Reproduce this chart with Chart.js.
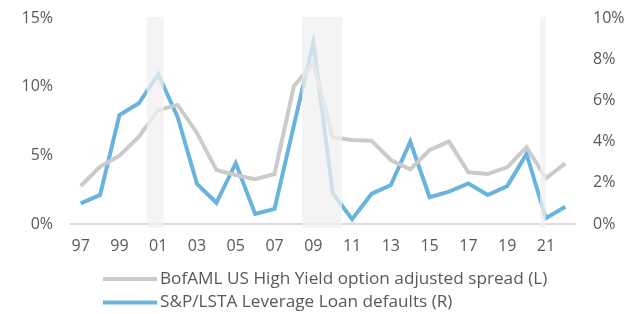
<!DOCTYPE html>
<html>
<head>
<meta charset="utf-8">
<script src="https://cdn.jsdelivr.net/npm/chart.js@4/dist/chart.umd.min.js"></script>
<style>
  html, body { margin: 0; padding: 0; background: #ffffff; }
  #wrap { width: 642px; height: 314px; position: relative; }
</style>
</head>
<body>
<div id="wrap"><canvas id="c" width="642" height="314"></canvas></div>
<script>
// ---- data ----
const years = [1997,1998,1999,2000,2001,2002,2003,2004,2005,2006,2007,2008,2009,2010,2011,2012,2013,2014,2015,2016,2017,2018,2019,2020,2021,2022];
const hySpread = [2.77,4.17,4.97,6.36,8.30,8.67,6.63,3.93,3.57,3.26,3.64,10.05,11.7,6.31,6.12,6.07,4.66,3.98,5.39,6.0,3.76,3.64,4.13,5.59,3.33,4.42];
const loanDefaults = [1.0,1.41,5.29,5.86,7.27,5.2,1.94,1.03,2.95,0.49,0.73,4.8,8.81,1.49,0.23,1.46,1.89,4.0,1.3,1.57,1.97,1.41,1.84,3.4,0.28,0.84];
const recessions = [[2000.41, 2001.28], [2008.42, 2010.48], [2020.7, 2021.0]];
const leftTicks = [0, 5, 10, 15];
const rightTicks = [0, 2, 4, 6, 8, 10];
const seriesLabels = ['BofAML US High Yield option adjusted spread (L)', 'S&P/LSTA Leverage Loan defaults (R)'];

const labels = years.map(y => String(y % 100).padStart(2, '0'));
const FONT = "'Open Sans', 'Noto Sans', sans-serif";
const TXT = '#595959';
const GRAY = '#cbcbcb';
const BLUE = '#6ab4dc';

const bandsPlugin = {
  id: 'bands',
  afterDatasetsDraw(chart) {
    const x = chart.scales.x, ca = chart.chartArea, ctx = chart.ctx;
    ctx.save();
    ctx.fillStyle = 'rgba(240,240,240,0.75)';
    recessions.forEach(([a, b]) => {
      const x1 = x.getPixelForValue(a - years[0]);
      const x2 = x.getPixelForValue(b - years[0]);
      ctx.fillRect(x1, ca.top - 1, x2 - x1, ca.bottom - ca.top + 5);
    });
    ctx.restore();
  }
};

const legendPlugin = {
  id: 'customLegend',
  afterDraw(chart) {
    const ctx = chart.ctx;
    ctx.save();
    chart.data.datasets.forEach((ds, i) => {
      const y = 279 + i * 23.5;
      ctx.strokeStyle = ds.borderColor;
      ctx.lineWidth = 4;
      ctx.beginPath();
      ctx.moveTo(103, y);
      ctx.lineTo(157, y);
      ctx.stroke();
      ctx.fillStyle = TXT;
      ctx.font = '17.2px ' + FONT;
      ctx.textBaseline = 'middle';
      ctx.textAlign = 'left';
      ctx.fillText(ds.label, 160, y);
    });
    ctx.restore();
  }
};

new Chart(document.getElementById('c'), {
  type: 'line',
  data: {
    labels: labels,
    datasets: [
      { label: seriesLabels[0], data: hySpread, yAxisID: 'yL', borderColor: GRAY, borderWidth: 4, pointRadius: 0, tension: 0, fill: false },
      { label: seriesLabels[1], data: loanDefaults, yAxisID: 'yR', borderColor: BLUE, borderWidth: 4, pointRadius: 0, tension: 0, fill: false }
    ]
  },
  options: {
    responsive: false,
    animation: false,
    devicePixelRatio: 1,
    layout: { padding: { top: 18, left: 0, right: 0, bottom: 0 } },
    plugins: { legend: { display: false }, tooltip: { enabled: false }, title: { display: false } },
    scales: {
      x: {
        type: 'category',
        offset: true,
        grid: { display: false, drawTicks: false },
        border: { display: true, color: '#d9d9d9', width: 2 },
        ticks: {
          autoSkip: false, maxRotation: 0, padding: 13,
          color: TXT, font: { family: FONT, size: 16 },
          callback: function(v, i) { return i % 2 === 0 ? this.getLabelForValue(v) : ''; }
        },
        afterFit(s) { s.height = 90; }
      },
      yL: {
        position: 'left', min: 0, max: 15,
        afterBuildTicks(s) { s.ticks = leftTicks.map(v => ({ value: v })); },
        grid: { display: false, drawTicks: false },
        border: { display: false },
        ticks: { padding: 18, color: TXT, font: { family: FONT, size: 16 }, callback: v => v + '%' },
        afterFit(s) { s.width = 71; s.paddingTop = 0; s.paddingBottom = 0; }
      },
      yR: {
        position: 'right', min: 0, max: 10,
        afterBuildTicks(s) { s.ticks = rightTicks.map(v => ({ value: v })); },
        grid: { display: false, drawTicks: false },
        border: { display: false },
        ticks: { padding: 18, color: TXT, font: { family: FONT, size: 16 }, callback: v => v + '%' },
        afterFit(s) { s.width = 67; s.paddingTop = 0; s.paddingBottom = 0; }
      }
    }
  },
  plugins: [bandsPlugin, legendPlugin]
});
</script>
</body>
</html>
